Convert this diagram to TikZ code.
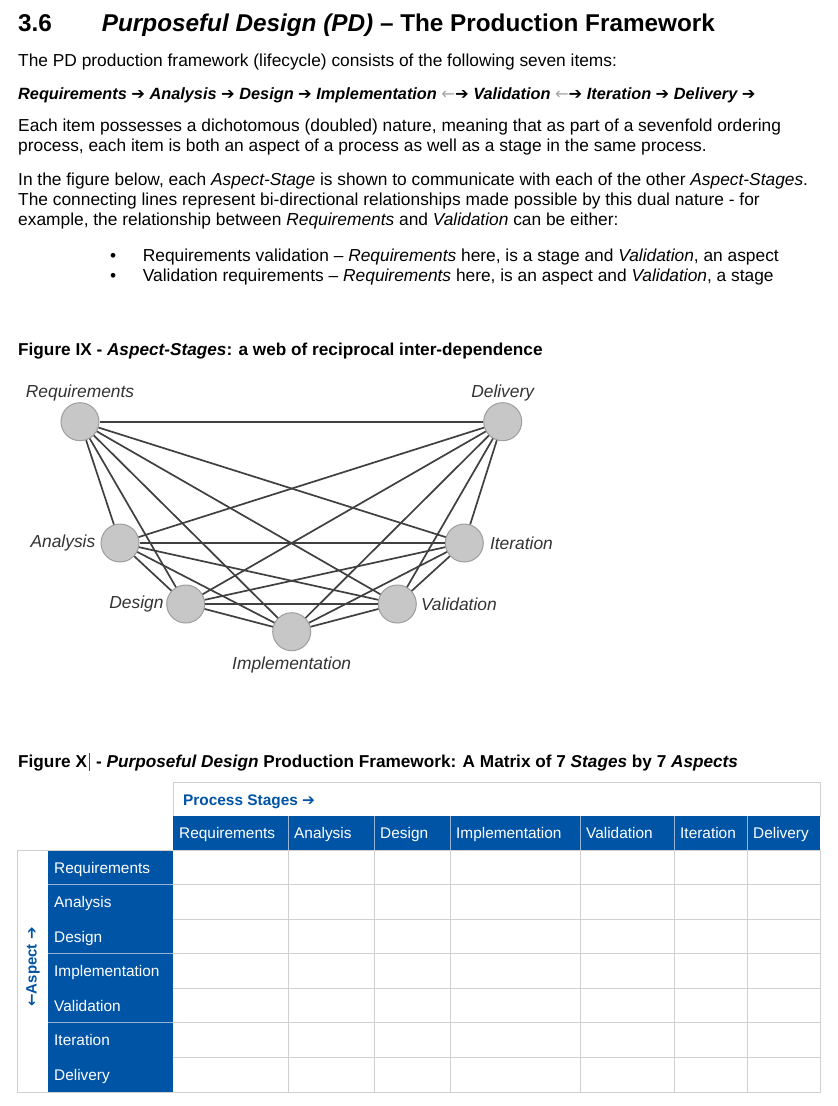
\documentclass[tikz,border=0pt]{standalone}
\usepackage{fontspec}
\usepackage{tikz}
\usepackage{xcolor}
\setmainfont{Liberation Sans}
\newfontfamily\symfont{DejaVu Sans}
\usetikzlibrary{positioning}

\definecolor{pdblue}{RGB}{0,84,166}
\definecolor{pdgrid}{RGB}{208,208,208}
\definecolor{pdsep}{RGB}{150,180,215}
\newcommand{\nextarr}{{\symfont\mdseries\upshape ➔}}
\newcommand{\backarr}{{\symfont\mdseries\upshape\color{black!35}←}}

\tikzset{
  body/.style={anchor=base west, inner sep=0pt, font=\fontsize{17.35}{20}\selectfont},
  caption/.style={anchor=base west, inner sep=0pt, font=\fontsize{17.2}{20}\selectfont\bfseries},
  heading/.style={anchor=base west, inner sep=0pt, font=\fontsize{24.3}{28}\selectfont\bfseries},
  aspnode/.style={circle, draw=black!38, fill=black!22, line width=1pt, minimum size=38pt, inner sep=0pt},
  asplabel/.style={inner sep=0pt, text=black!80, font=\fontsize{17.4}{20}\selectfont\itshape},
  web/.style={draw=black!75, line width=1.7pt},
  celltxt/.style={anchor=base west, inner sep=0pt, text=white, font=\fontsize{15.4}{18}\selectfont},
}

\begin{document}
\begin{tikzpicture}[x=1pt, y=-1pt]
\fill[white] (0,0) rectangle (838,1106);
\useasboundingbox (0,0) rectangle (838,1106);

% section text
\node[heading] (secnum) at (18,31.7) {3.6};
\node[heading] (sectitle) at (101.7,31.7) {\textit{Purposeful Design (PD)} – The Production Framework};
\node[body] (intro) at (18,66.7) {The PD production framework (lifecycle) consists of the following seven items:};
\node[body, font=\fontsize{16.3}{20}\selectfont\bfseries\itshape] (sequence) at (18,99.3)
  {Requirements \nextarr{} Analysis \nextarr{} Design \nextarr{} Implementation \backarr\nextarr{} Validation \backarr\nextarr{} Iteration \nextarr{} Delivery \nextarr};
\node[body] (para1a) at (18,131.7) {Each item possesses a dichotomous (doubled) nature, meaning that as part of a sevenfold ordering};
\node[body] (para1b) at (18,151.7) {process, each item is both an aspect of a process as well as a stage in the same process.};
\node[body] (para2a) at (18,185.7) {In the figure below, each \textit{Aspect-Stage} is shown to communicate with each of the other \textit{Aspect-Stages}.};
\node[body] (para2b) at (18,205.7) {The connecting lines represent bi-directional relationships made possible by this dual nature - for};
\node[body] (para2c) at (18,225.7) {example, the relationship between \textit{Requirements} and \textit{Validation} can be either:};
\node[body] (dot1) at (110,261.7) {•};
\node[body] (item1) at (142.7,261.7) {Requirements validation – \textit{Requirements} here, is a stage and \textit{Validation}, an aspect};
\node[body] (dot2) at (110,281.7) {•};
\node[body] (item2) at (142.7,281.7) {Validation requirements – \textit{Requirements} here, is an aspect and \textit{Validation}, a stage};

% Figure IX
\node[caption] (figweb) at (18,355) {Figure IX - \textit{Aspect-Stages}: a web of reciprocal inter-dependence};

\node[aspnode] (req) at (80,421.7) {};
\node[aspnode] (del) at (502.7,421.7) {};
\node[aspnode] (ana) at (120,543) {};
\node[aspnode] (ite) at (464.3,543) {};
\node[aspnode] (des) at (185.7,604) {};
\node[aspnode] (val) at (397.3,604) {};
\node[aspnode] (imp) at (291.7,631.7) {};

\node[asplabel, above=0.5pt of req] (reqtxt) {Requirements};
\node[asplabel, above=0.5pt of del] (deltxt) {Delivery};
\node[asplabel, left=5pt of ana] (anatxt) {Analysis};
\node[asplabel, right=6pt of ite] (itetxt) {Iteration};
\node[asplabel, left=2.5pt of des] (destxt) {Design};
\node[asplabel, right=4pt of val] (valtxt) {Validation};
\node[asplabel, below=5pt of imp] (imptxt) {Implementation};

\foreach \from/\to in {req/ana, req/des, req/imp, req/val, req/ite, req/del,
                       ana/des, ana/imp, ana/val, ana/ite, ana/del,
                       des/imp, des/val, des/ite, des/del,
                       imp/val, imp/ite, imp/del,
                       val/ite, val/del, ite/del}
  \draw[web] (\from) -- (\to);

% Figure X
\node[caption] (figmatrix) at (18,767)
  {Figure X\kern1.5pt{\color{black!70}\rule[-3.5pt]{0.8pt}{18pt}}\kern2pt{} - \textit{Purposeful Design} Production Framework: A Matrix of 7 \textit{Stages} by 7 \textit{Aspects}};

\draw[pdgrid, line width=1pt] (173,782) rectangle (820,816);
\node[anchor=base west, inner sep=0pt, text=pdblue, font=\fontsize{15.4}{18}\selectfont\bfseries] (stages) at (183,805) {Process Stages \nextarr};

\foreach \name/\lx/\rx [count=\i] in {Requirements/173/288, Analysis/288/374, Design/374/450,
    Implementation/450/580, Validation/580/674, Iteration/674/747, Delivery/747/820}
{
  \fill[pdblue] (\lx,816) rectangle (\rx,850);
  \node[celltxt] (st\i) at (\lx+6,838.5) {\name};
  \draw[pdgrid, line width=1pt] (\rx,850) -- (\rx,1092);
}
\foreach \x in {288,374,450,580,674,747} \draw[pdsep, line width=0.8pt] (\x,816) -- (\x,850);

\foreach \name [count=\i from 0] in {Requirements, Analysis, Design, Implementation, Validation, Iteration, Delivery}
{
  \fill[pdblue] (48,850+\i*34.571) rectangle (173,850+\i*34.571+34.571);
  \node[celltxt] (asp\i) at (54,850+\i*34.571+23) {\name};
  \draw[pdgrid, line width=1pt] (173,850+\i*34.571+34.571) -- (820,850+\i*34.571+34.571);
  \draw[pdsep, line width=0.8pt] (48,850+\i*34.571+34.571) -- (173,850+\i*34.571+34.571);
}
\draw[pdgrid, line width=1pt] (17,850) rectangle (820,1092);
\draw[pdgrid, line width=1pt] (173,850) -- (820,850);

\node[rotate=90, inner sep=0pt, text=pdblue, font=\fontsize{15}{18}\selectfont\bfseries] (aspect) at (33,967)
  {{\symfont ←}Aspect \nextarr};
\end{tikzpicture}
\end{document}
